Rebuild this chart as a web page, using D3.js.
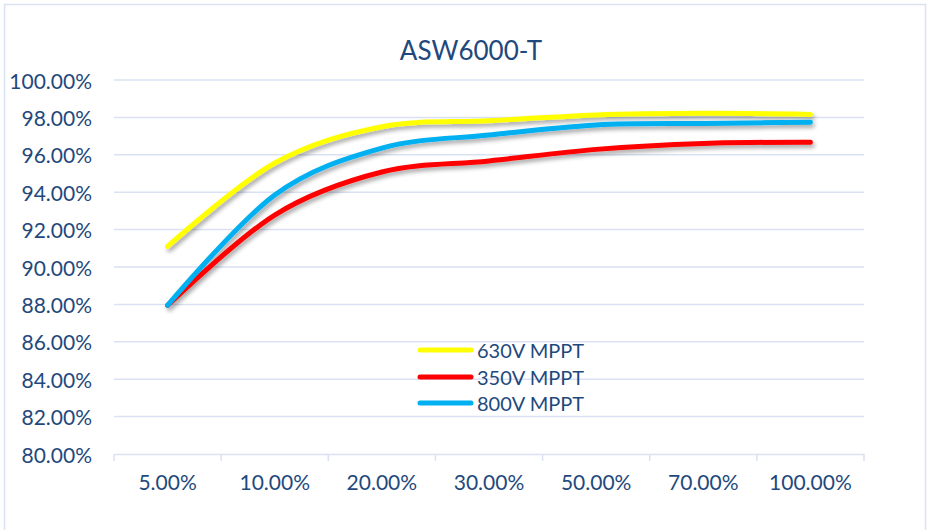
<!DOCTYPE html>
<html>
<head>
<meta charset="utf-8">
<script src="https://cdn.jsdelivr.net/npm/d3@7"></script>
<style>
  html, body { margin: 0; padding: 0; background: #fff; }
  svg { display: block; }
  text { font-family: Lato, "Open Sans", sans-serif; fill: #1F497D; }
</style>
</head>
<body>
<svg id="chart" width="931" height="530"></svg>
<script>
const title = "ASW6000-T";
const categories = ["5.00%", "10.00%", "20.00%", "30.00%", "50.00%", "70.00%", "100.00%"];
const seriesNames = ["630V MPPT", "350V MPPT", "800V MPPT"];
const seriesColors = ["#FFFF00", "#FF0000", "#00B0F0"];
const values630 = [0.9110, 0.9556, 0.9750, 0.9782, 0.9813, 0.9822, 0.9816];
const values350 = [0.8795, 0.9278, 0.9508, 0.9567, 0.9629, 0.9661, 0.9667];
const values800 = [0.8795, 0.9385, 0.9636, 0.9706, 0.9760, 0.9768, 0.9774];
const yTicks = [0.80, 0.82, 0.84, 0.86, 0.88, 0.90, 0.92, 0.94, 0.96, 0.98, 1.00];

const series = [values630, values350, values800];

const svg = d3.select("#chart");
const W = 931, H = 530;
const plot = { left: 114, right: 864, top: 80, bottom: 454 };

// chart border
svg.append("rect")
  .attr("x", 4.5).attr("y", 4.5)
  .attr("width", 921).attr("height", 540)
  .attr("fill", "none").attr("stroke", "#D9E2F0").attr("stroke-width", 1.5);

const defs = svg.append("defs");
const f = defs.append("filter").attr("id", "shadow")
  .attr("x", "-10%").attr("y", "-10%").attr("width", "130%").attr("height", "140%");
f.append("feDropShadow").attr("dx", 2).attr("dy", 3).attr("stdDeviation", 2)
  .attr("flood-color", "#000").attr("flood-opacity", 0.35);

const x = d3.scaleBand().domain(categories).range([plot.left, plot.right]).paddingInner(0).paddingOuter(0);
const y = d3.scaleLinear().domain([0.80, 1.00]).range([plot.bottom, plot.top]);

// gridlines
svg.append("g").selectAll("line").data(yTicks.slice(1)).join("line")
  .attr("x1", plot.left).attr("x2", plot.right)
  .attr("y1", d => y(d)).attr("y2", d => y(d))
  .attr("stroke", "#D9E1F2").attr("stroke-width", 1.5);

// y labels
const fmt = d3.format(".2%");
svg.append("g").selectAll("text").data(yTicks).join("text")
  .attr("x", 92).attr("y", d => y(d))
  .attr("text-anchor", "end").attr("dominant-baseline", "central")
  .attr("font-size", 21)
  .text(d => fmt(d));

// x axis
const xAxis = d3.axisBottom(x).tickSize(0).tickFormat(d => d);
const gx = svg.append("g").attr("transform", `translate(0,${plot.bottom})`).call(xAxis);
gx.select(".domain").attr("stroke", "#D9E1F2").attr("stroke-width", 1.5);
gx.selectAll(".tick text").attr("font-size", 21).attr("dy", "1.55em")
  .attr("font-family", "Lato, 'Open Sans', sans-serif").attr("fill", "#1F497D");
// category boundary ticks
const bounds = categories.map(c => x(c)).concat([x(categories[categories.length - 1]) + x.bandwidth()]);
svg.append("g").selectAll("line").data(bounds).join("line")
  .attr("x1", d => d).attr("x2", d => d)
  .attr("y1", plot.bottom).attr("y2", plot.bottom + 7)
  .attr("stroke", "#D9E1F2").attr("stroke-width", 1.5);

// title
svg.append("text").attr("x", 471).attr("y", 60).attr("text-anchor", "middle")
  .attr("font-size", 26).text(title);

// lines
const line = d3.line()
  .x((d, i) => x(categories[i]) + x.bandwidth() / 2)
  .y(d => y(d))
  .curve(d3.curveCardinal.tension(0));

svg.append("g").attr("filter", "url(#shadow)").selectAll("path").data(series).join("path")
  .attr("d", d => line(d))
  .attr("fill", "none")
  .attr("stroke", (d, i) => seriesColors[i])
  .attr("stroke-width", 5)
  .attr("stroke-linecap", "round")
  .attr("stroke-linejoin", "round");

// legend
const legendY = [350, 377, 403];
const lg = svg.append("g");
seriesNames.forEach((name, i) => {
  lg.append("line").attr("x1", 420).attr("x2", 471)
    .attr("y1", legendY[i]).attr("y2", legendY[i])
    .attr("stroke", seriesColors[i]).attr("stroke-width", 5).attr("stroke-linecap", "round");
  lg.append("text").attr("x", 477).attr("y", legendY[i]).attr("dominant-baseline", "central")
    .attr("font-size", 20).text(name);
});
</script>
</body>
</html>
